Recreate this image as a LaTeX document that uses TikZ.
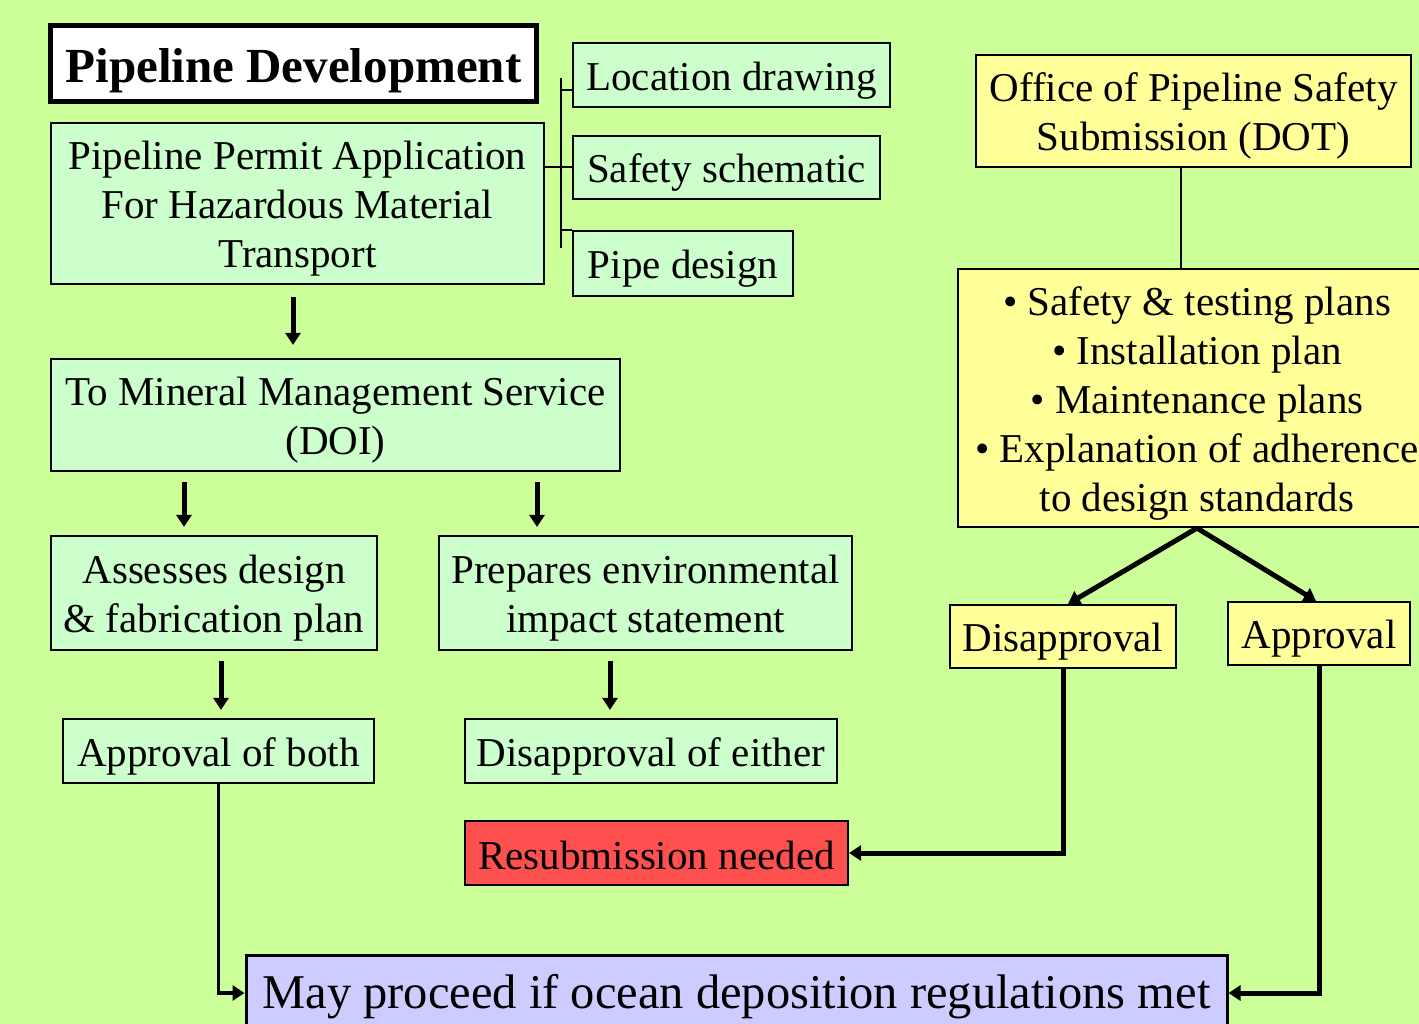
\documentclass[tikz,border=0pt]{standalone}
\usepackage{fontspec}
\setmainfont{Liberation Serif}
\usetikzlibrary{arrows.meta,calc,positioning}
\definecolor{field}{HTML}{CCFF99}
\definecolor{mint}{HTML}{CCFFCC}
\definecolor{butter}{HTML}{FFFF99}
\definecolor{alarm}{HTML}{FF5050}
\definecolor{lilac}{HTML}{CCCCFF}

\begin{document}
\begin{tikzpicture}[x=1pt,y=-1pt,
  box/.style={draw,line width=2.2pt,inner sep=0pt,align=center,font=\fontsize{41}{49}\selectfont,
    text height=39pt},
  mintbox/.style={box,fill=mint},
  butterbox/.style={box,fill=butter},
  flow/.style={line width=5pt,-{Triangle[length=12pt,width=15pt]}},
  link/.style={line width=2pt}]
  \fill[field] (0,0) rectangle (1419,1024);
  \useasboundingbox (0,0) rectangle (1419,1024);

  % left column: permit and MMS review
  \node[box,fill=white,line width=5pt,minimum width=486pt,minimum height=76pt,
    font=\fontsize{49}{56}\selectfont\bfseries,text height=49pt]
    (title) at (293.5,63.5) {Pipeline Development};
  \node[mintbox,minimum width=493pt,minimum height=161pt,text height=137pt] (permit) at (297.5,203.5)
    {Pipeline Permit Application\\For Hazardous Material\\Transport};
  \node[mintbox,minimum width=317pt,minimum height=64pt] (loc) at (731.5,75) {Location drawing};
  \node[mintbox,minimum width=307pt,minimum height=63pt] (safety) at (726.5,167.5) {Safety schematic};
  \node[mintbox,minimum width=220pt,minimum height=65pt] (pipe) at (683,263.5) {Pipe design};
  \node[mintbox,minimum width=569pt,minimum height=112pt,text height=88pt] (mms) at (335.5,415)
    {To Mineral Management Service\\(DOI)};
  \node[mintbox,minimum width=326pt,minimum height=114pt,text height=88pt] (assess) at (214,593)
    {Assesses design\\\& fabrication plan};
  \node[mintbox,minimum width=413pt,minimum height=114pt,text height=88pt] (prep) at (645.5,593)
    {Prepares environmental\\impact statement};
  \node[mintbox,minimum width=311pt,minimum height=64pt] (both) at (218.5,751) {Approval of both};
  \node[mintbox,minimum width=372pt,minimum height=64pt] (either) at (651,751) {Disapproval of either};
  \node[box,fill=alarm,minimum width=383pt,minimum height=64pt,text height=33pt]
    (resub) at (656.5,853) {Resubmission needed};
  \node[box,fill=lilac,line width=3pt,minimum width=981pt,minimum height=76pt,
    font=\fontsize{48.5}{56}\selectfont,text height=42pt]
    (may) at (736.5,993) {May proceed if ocean deposition regulations met};

  % right column: DOT submission
  \node[butterbox,minimum width=435pt,minimum height=112pt,text height=88pt] (dot) at (1193.5,111)
    {Office of Pipeline Safety\\Submission (DOT)};
  \node[butterbox,minimum width=478pt,minimum height=258pt,text height=235pt] (bullets) at (1197,398)
    {• Safety \& testing plans\\• Installation plan\\• Maintenance plans\\• Explanation of adherence\\to design standards};
  \node[butterbox,minimum width=226pt,minimum height=63pt] (dis) at (1063,636.5) {Disapproval};
  \node[butterbox,minimum width=182pt,minimum height=63pt] (app) at (1319,633.5) {Approval};

  % bracket to the permit parts
  \coordinate (spinetop) at (561,78);
  \coordinate (spinebot) at (561,248);
  \draw[link] (spinetop) -- (spinebot);
  \draw[link] (safety.west -| permit.east) -- (safety.west);
  \draw[link] (spinetop |- 0,90) -- (loc.west |- 0,90);
  \draw[link] (spinetop |- 0,230) -- (pipe.west |- 0,230);

  \draw[flow,shorten <=12pt,shorten >=13pt] (permit.south -| 293,0) -- (mms.north -| 293,0);
  \foreach \x/\a/\b in {184/mms/assess,537/mms/prep,221/assess/both,610/prep/either} {
    \draw[flow,shorten <=10pt,shorten >=8pt] (\a.south -| \x,0) -- (\b.north -| \x,0);
  }
  \draw[flow,line width=3.5pt] (both.south) |- (may.west);

  \draw[link] (dot.south -| 1181,0) -- (bullets.north -| 1181,0);
  \draw[flow] (bullets.south) -- ([xshift=5pt]dis.north);
  \draw[flow] (bullets.south) -- ([xshift=-3pt]app.north);
  \draw[flow] (dis.south) |- (resub.east);
  \draw[flow] (app.south) |- (may.east);
\end{tikzpicture}
\end{document}
